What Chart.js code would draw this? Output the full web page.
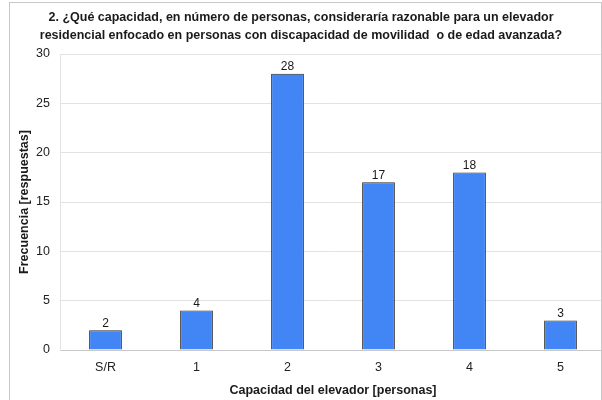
<!DOCTYPE html>
<html>
<head>
<meta charset="utf-8">
<script src="https://cdn.jsdelivr.net/npm/chart.js@4.4.1/dist/chart.umd.min.js"></script>
<style>
  html, body { margin: 0; padding: 0; background: #fff; }
  #wrap { position: relative; width: 602px; height: 400px; overflow: hidden; font-family: "Liberation Sans", Arial, sans-serif; }
  #frame { position: absolute; left: 9px; top: 2px; width: 591px; height: 420px; border: 1px solid #c8c8c8; pointer-events: none; }
  #titulo { position: absolute; left: 0; top: 8px; width: 602px; text-align: center; font-weight: bold; font-size: 12.5px; line-height: 18px; color: #1a1a1a; }
  canvas { position: absolute; left: 0; top: 0; }
</style>
</head>
<body>
<div id="wrap">
  <canvas id="grafico" width="612" height="400"></canvas>
  <div id="titulo">2. ¿Qué capacidad, en número de personas, consideraría razonable para un elevador<br>residencial enfocado en personas con discapacidad de movilidad&nbsp; o de edad avanzada?</div>
  <div id="frame"></div>
</div>
<script>
const categorias = ['S/R', '1', '2', '3', '4', '5'];
const frecuencias = [2, 4, 28, 17, 18, 3];
const ticksY = [0, 5, 10, 15, 20, 25, 30];

const fuente = '"Liberation Sans", Arial, sans-serif';

// etiquetas con el valor encima de cada barra
const etiquetasValor = {
  id: 'etiquetasValor',
  afterDatasetsDraw(chart){
    const ctx = chart.ctx;
    const meta = chart.getDatasetMeta(0);
    ctx.save();
    ctx.font = '12px ' + fuente;
    ctx.fillStyle = '#1a1a1a';
    ctx.textAlign = 'center';
    ctx.textBaseline = 'bottom';
    meta.data.forEach((bar, i) => {
      ctx.fillText(String(frecuencias[i]), bar.x, bar.y - 1);
    });
    ctx.restore();
  }
};

const ctx = document.getElementById('grafico').getContext('2d');
new Chart(ctx, {
  type: 'bar',
  data: {
    labels: categorias,
    datasets: [{
      data: frecuencias,
      backgroundColor: '#4285f4',
      borderColor: '#2b2b2b',
      borderWidth: 1,
      barPercentage: 0.36,
      categoryPercentage: 1
    }]
  },
  options: {
    responsive: false,
    animation: false,
    layout: { padding: { top: 54, left: 17, right: 6, bottom: 2 } },
    plugins: { legend: { display: false }, tooltip: { enabled: false }, title: { display: false } },
    scales: {
      x: {
        afterFit(axis){ axis.height = 48; },
        grid: { display: false, drawTicks: false },
        border: { color: '#c8c8c8' },
        ticks: { color: '#222', font: { family: fuente, size: 12.5 }, padding: 10 },
        title: { display: true, text: 'Capacidad del elevador [personas]', color: '#1a1a1a',
                 font: { family: fuente, size: 12.5, weight: 'bold' }, padding: { top: 0, bottom: 0 } }
      },
      y: {
        min: 0, max: 30,
        afterBuildTicks(axis){ axis.ticks = ticksY.map(v => ({ value: v })); },
        afterFit(axis){ axis.width = 43; },
        grid: { color: '#e2e2e2', drawTicks: false },
        border: { color: '#e2e2e2' },
        ticks: { color: '#222', font: { family: fuente, size: 12.5 }, padding: 10 },
        title: { display: true, text: 'Frecuencia [respuestas]', color: '#1a1a1a',
                 font: { family: fuente, size: 12.5, weight: 'bold' }, padding: { top: 0, bottom: 0 } }
      }
    }
  },
  plugins: [etiquetasValor]
});
</script>
</body>
</html>
